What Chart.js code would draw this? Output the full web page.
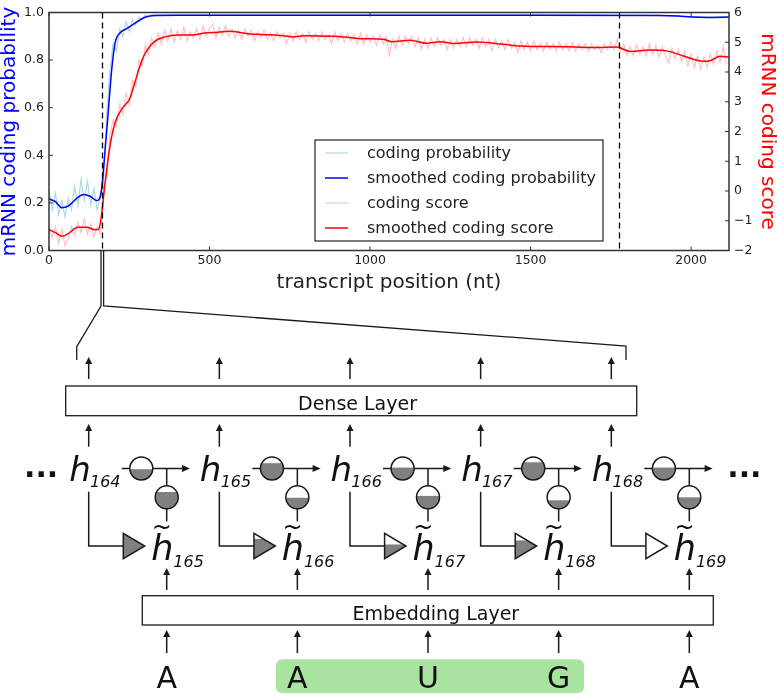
<!DOCTYPE html>
<html>
<head>
<meta charset="utf-8">
<script src="https://cdn.jsdelivr.net/npm/chart.js@4.4.0/dist/chart.umd.min.js"></script>
<style>
body { margin: 0; background: #fff; }
#wrap { position: relative; width: 777px; height: 695px; }
#chartBox { position: absolute; left: 0; top: 0; width: 777px; height: 300px; }
#diagram { position: absolute; left: 0; top: 0; pointer-events: none; }
</style>
</head>
<body>
<div id="wrap">
  <div id="chartBox"><canvas id="chart"></canvas></div>
  <svg id="diagram" width="777" height="695"></svg>
</div>
<script>
// Data
const transcriptLength = 2118;
const cdsBounds = [166, 1775];
const xTicks = [0, 500, 1000, 1500, 2000];
const probTicks = [0, 0.2, 0.4, 0.6, 0.8, 1.0];
const scoreTicks = [-2, -1, 0, 1, 2, 3, 4, 5, 6];

const rawProbX = [0, 10, 20, 30, 40, 50, 60, 70, 80, 90, 100, 110, 120, 130, 140, 150, 160, 170, 180, 190,
  200, 210, 220, 230, 240, 250, 260, 270, 280, 290, 300, 310, 320, 330, 400, 800, 1200, 1600, 1900, 2000, 2118];
const rawProb = [.26, .17, .24, .15, .21, .14, .22, .17, .27, .19, .30, .21, .29, .19, .26, .17, .22, .30, .58, .76,
  .87, .84, .93, .90, .96, .92, .97, .95, .98, .97, .99, .98, .99, .99, .99, .99, .99, .99, .988, .982, .982];

const smoothProbX = [0, 20, 40, 60, 91, 107, 128, 148, 156, 164, 174, 185, 195, 206, 221, 242, 268, 299, 320, 400,
  1000, 1500, 1900, 1960, 2000, 2050, 2118];
const smoothProb = [.217, .205, .18, .187, .224, .235, .228, .21, .215, .26, .41, .59, .756, .873, .914, .932, .955, .98, .986, .988,
  .988, .988, .987, .985, .981, .979, .981];

// coding score sampled every 10 nt
const rawScore = [
  -1.15, -1.55, -1.20, -1.75, -1.30, -1.85, -1.60, -1.20, -1.50, -1.05,
  -1.40, -0.95, -1.45, -1.10, -1.55, -1.20, -1.45, 0.10, 0.50, 1.90,
  2.40, 2.20, 2.90, 2.60, 3.30, 2.90, 3.70, 3.50, 4.40, 4.20,
  4.90, 4.60, 5.15, 4.85, 5.30, 4.95, 5.40, 5.05, 5.45, 5.00,
  5.40, 5.10, 5.50, 5.05, 5.35, 5.15, 5.45, 5.10, 5.55, 5.20,
  5.45, 5.60, 5.15, 5.50, 5.25, 5.55, 5.20, 5.45, 5.15, 5.40,
  5.10, 5.45, 5.20, 5.40, 5.05, 5.35, 5.15, 5.40, 5.10, 5.30,
  5.05, 5.35, 5.15, 5.30, 4.95, 5.30, 5.05, 5.35, 5.10, 5.30,
  5.00, 5.35, 5.10, 5.30, 5.05, 5.35, 5.10, 5.25, 4.95, 5.35,
  5.05, 5.30, 5.00, 5.30, 5.05, 5.25, 4.95, 5.30, 4.95, 5.25,
  5.00, 5.20, 4.90, 5.25, 4.95, 5.20, 4.55, 5.10, 4.80, 5.20,
  4.90, 5.20, 4.95, 5.20, 4.85, 5.15, 4.75, 5.10, 4.80, 5.15,
  4.85, 5.15, 4.90, 5.10, 4.75, 5.10, 4.80, 5.10, 4.85, 5.15,
  4.85, 5.15, 4.90, 5.10, 4.80, 5.15, 4.85, 5.10, 4.70, 5.10,
  4.80, 5.05, 4.75, 5.10, 4.80, 5.00, 4.65, 5.05, 4.75, 5.00,
  4.70, 5.05, 4.75, 4.95, 4.70, 5.00, 4.75, 4.95, 4.70, 5.00,
  4.75, 4.95, 4.70, 5.00, 4.70, 4.95, 4.75, 4.95, 4.70, 4.95,
  4.75, 4.90, 4.65, 4.95, 4.75, 5.00, 4.75, 5.10, 4.70, 4.95,
  4.55, 4.85, 4.55, 4.90, 4.60, 4.85, 4.55, 4.95, 4.60, 4.90,
  4.50, 4.85, 4.55, 4.30, 4.80, 4.45, 4.75, 4.35, 4.70, 4.20,
  4.60, 4.15, 4.55, 4.10, 4.50, 4.15, 4.60, 4.25, 4.70, 4.35,
  4.85, 4.30
];
const rawScoreX = rawScore.map((_, i) => i * 10);

const smoothScoreX = [0, 20, 40, 60, 90, 117, 143, 155, 164, 174, 190, 206, 226, 252, 268, 289, 304, 330, 361, 403,
  444, 486, 527, 560, 626, 660, 730, 761, 792, 886, 917, 979, 1041, 1067, 1124, 1176, 1218, 1259, 1332, 1415,
  1467, 1519, 1623, 1706, 1768, 1810, 1872, 1924, 1976, 2038, 2059, 2090, 2118];
const smoothScore = [-1.30, -1.40, -1.52, -1.43, -1.22, -1.22, -1.30, -1.28, -0.78, 0.21, 1.52, 2.30, 2.74, 3.12, 3.67, 4.38, 4.71, 5.04, 5.18, 5.24,
  5.24, 5.31, 5.34, 5.37, 5.28, 5.26, 5.22, 5.18, 5.22, 5.20, 5.18, 5.12, 5.10, 5.02, 5.07, 4.97, 5.02, 4.96, 5.01, 4.93,
  4.87, 4.86, 4.85, 4.82, 4.84, 4.69, 4.74, 4.71, 4.54, 4.36, 4.38, 4.53, 4.50];

const pts = (xs, ys) => xs.map((x, i) => ({ x: x, y: ys[i] }));
const FONT = 'DejaVu Sans';
const INK = '#222';

const framePlugin = {
  id: 'frameAndLegend',
  afterDatasetsDraw(chart) {
    const { ctx, chartArea: a, scales } = chart;
    ctx.save();
    // start / stop codon positions
    ctx.strokeStyle = '#000';
    ctx.lineWidth = 1.3;
    ctx.setLineDash([6, 4]);
    cdsBounds.forEach(v => {
      const px = Math.round(scales.x.getPixelForValue(v)) + 0.5;
      ctx.beginPath(); ctx.moveTo(px, a.top); ctx.lineTo(px, a.bottom); ctx.stroke();
    });
    ctx.setLineDash([]);
    // axes frame
    ctx.strokeStyle = '#333';
    ctx.lineWidth = 1.5;
    ctx.strokeRect(a.left, a.top, a.right - a.left, a.bottom - a.top);
    // inward tick marks
    ctx.lineWidth = 1;
    const tl = 4;
    xTicks.forEach(v => {
      const px = scales.x.getPixelForValue(v);
      ctx.beginPath();
      ctx.moveTo(px, a.bottom); ctx.lineTo(px, a.bottom - tl);
      ctx.moveTo(px, a.top); ctx.lineTo(px, a.top + tl);
      ctx.stroke();
    });
    probTicks.forEach(v => {
      const py = scales.y.getPixelForValue(v);
      ctx.beginPath(); ctx.moveTo(a.left, py); ctx.lineTo(a.left + tl, py); ctx.stroke();
    });
    scoreTicks.forEach(v => {
      const py = scales.y1.getPixelForValue(v);
      ctx.beginPath(); ctx.moveTo(a.right, py); ctx.lineTo(a.right - tl, py); ctx.stroke();
    });
    // legend
    const lx = a.left + 266, ly = a.top + 127.5, lw = 288, lh = 101;
    ctx.fillStyle = '#fff';
    ctx.fillRect(lx, ly, lw, lh);
    ctx.strokeStyle = INK;
    ctx.lineWidth = 1.2;
    ctx.strokeRect(lx, ly, lw, lh);
    ctx.font = '16px "' + FONT + '"';
    ctx.textBaseline = 'middle';
    ctx.fillStyle = INK;
    chart.data.datasets.forEach((ds, i) => {
      const ry = ly + 13 + i * 25;
      ctx.strokeStyle = ds.borderColor;
      ctx.lineWidth = ds.borderWidth;
      ctx.beginPath(); ctx.moveTo(lx + 10, ry); ctx.lineTo(lx + 33, ry); ctx.stroke();
      ctx.fillText(ds.label, lx + 52, ry + 1);
    });
    ctx.restore();
  }
};

const tickFont = { family: FONT, size: 12.5 };
const titleFont = { family: FONT, size: 20, lineHeight: 1 };

new Chart(document.getElementById('chart'), {
  type: 'line',
  data: {
    datasets: [
      { label: 'coding probability', data: pts(rawProbX, rawProb), yAxisID: 'y', borderColor: '#add8e6', borderWidth: 1.2, order: 4 },
      { label: 'smoothed coding probability', data: pts(smoothProbX, smoothProb), yAxisID: 'y', borderColor: '#0000ff', borderWidth: 1.5, cubicInterpolationMode: 'monotone', order: 3 },
      { label: 'coding score', data: pts(rawScoreX, rawScore), yAxisID: 'y1', borderColor: '#ffc0cb', borderWidth: 1.2, order: 2 },
      { label: 'smoothed coding score', data: pts(smoothScoreX, smoothScore), yAxisID: 'y1', borderColor: '#ff0000', borderWidth: 1.5, cubicInterpolationMode: 'monotone', order: 1 }
    ]
  },
  options: {
    responsive: true,
    maintainAspectRatio: false,
    animation: false,
    layout: { padding: { top: 7.5, left: 0, right: 0, bottom: 0 } },
    elements: { point: { radius: 0 }, line: { tension: 0 } },
    plugins: { legend: { display: false }, tooltip: { enabled: false } },
    scales: {
      x: {
        type: 'linear', min: 0, max: transcriptLength,
        afterBuildTicks: s => { s.ticks = xTicks.map(v => ({ value: v })); },
        afterFit: s => { s.height = 49.5; },
        grid: { display: false, drawTicks: false },
        border: { display: false },
        ticks: { font: tickFont, color: INK, padding: 3, maxRotation: 0, callback: v => String(v) },
        title: { display: true, text: 'transcript position (nt)', font: titleFont, color: INK, padding: { top: 0, bottom: 7.5 } }
      },
      y: {
        position: 'left', min: 0, max: 1,
        afterBuildTicks: s => { s.ticks = probTicks.map(v => ({ value: v })); },
        afterFit: s => { s.width = 49; },
        grid: { display: false, drawTicks: false },
        border: { display: false },
        ticks: { font: tickFont, color: INK, padding: 5, callback: v => v.toFixed(1) },
        title: { display: true, text: 'mRNN coding probability', font: titleFont, color: '#0000ff', padding: 0 }
      },
      y1: {
        position: 'right', min: -2, max: 6,
        afterBuildTicks: s => { s.ticks = scoreTicks.map(v => ({ value: v })); },
        afterFit: s => { s.width = 48; },
        grid: { display: false, drawTicks: false },
        border: { display: false },
        ticks: { font: tickFont, color: INK, padding: 5, callback: v => (v < 0 ? '\u2212' + Math.abs(v) : String(v)) },
        title: { display: true, text: 'mRNN coding score', font: titleFont, color: '#ff0000', padding: 0 }
      }
    }
  },
  plugins: [framePlugin]
});

// ---- network diagram below the chart ----
const hLabels = ['164', '165', '166', '167', '168'];
const bases = ['A', 'A', 'U', 'G', 'A'];
const updateGate = [0.47, 0.73, 0.54, 0.77, 0.54];
const resetGate = [0.73, 0.48, 0.56, 0.37, 0.5];
const candGate = [1.0, 0.78, 0.56, 0.72, 0.0];

const svg = document.getElementById('diagram');
const NS = 'http://www.w3.org/2000/svg';
const GRAY = '#808080';
const LINE = '#1a1a1a';
function el(tag, attrs, parent) {
  const e = document.createElementNS(NS, tag);
  for (const k in attrs) e.setAttribute(k, attrs[k]);
  (parent || svg).appendChild(e);
  return e;
}
function txt(x, y, s, attrs) {
  const t = el('text', Object.assign({ x: x, y: y, 'font-family': FONT, fill: '#111' }, attrs));
  t.textContent = s;
  return t;
}
const defs = el('defs', {});
const stroke = { stroke: LINE, 'stroke-width': 1.5, fill: 'none' };

function arrowUp(x, yFrom, yTip) {
  el('line', Object.assign({ x1: x, y1: yFrom, x2: x, y2: yTip + 5 }, stroke));
  el('polygon', { points: `${x - 3.5},${yTip + 7} ${x + 3.5},${yTip + 7} ${x},${yTip}`, fill: LINE });
}
function arrowRight(xFrom, xTip, y) {
  el('line', Object.assign({ x1: xFrom, y1: y, x2: xTip - 5, y2: y }, stroke));
  el('polygon', { points: `${xTip - 8},${y - 3.5} ${xTip - 8},${y + 3.5} ${xTip},${y}`, fill: LINE });
}
let clipId = 0;
function gauge(cx, cy, r, f) {
  const id = 'cp' + (clipId++);
  const cp = el('clipPath', { id: id }, defs);
  el('circle', { cx: cx, cy: cy, r: r }, cp);
  el('circle', { cx: cx, cy: cy, r: r, fill: '#fff' });
  el('rect', { x: cx - r, y: cy + r - 2 * r * f, width: 2 * r, height: 2 * r * f, fill: GRAY, 'clip-path': `url(#${id})` });
  el('circle', Object.assign({ cx: cx, cy: cy, r: r }, stroke));
}
function triGauge(x0, x1, yc, half, f) {
  const id = 'cp' + (clipId++);
  const p = `${x0},${yc - half} ${x0},${yc + half} ${x1},${yc}`;
  const cp = el('clipPath', { id: id }, defs);
  el('polygon', { points: p }, cp);
  el('polygon', { points: p, fill: '#fff' });
  el('rect', { x: x0, y: yc + half - 2 * half * f, width: x1 - x0, height: 2 * half * f, fill: GRAY, 'clip-path': `url(#${id})` });
  el('polygon', Object.assign({ points: p, 'stroke-linejoin': 'miter' }, stroke));
}

// zoom connector from the start codon
el('polyline', { points: '101,251 101,306 76.7,346.7 76.7,360', stroke: LINE, fill: 'none', 'stroke-width': 1.3 });
el('polyline', { points: '103.6,251 103.6,306 626,346 626,360', stroke: LINE, fill: 'none', 'stroke-width': 1.3 });

// layers
el('rect', Object.assign({ x: 65.7, y: 386, width: 571, height: 29.7 }, stroke, { fill: '#fff', 'stroke-width': 1.3 }));
txt(357.5, 410, 'Dense Layer', { 'font-size': 19, 'text-anchor': 'middle' });
el('rect', Object.assign({ x: 142.3, y: 595.7, width: 571, height: 29.3 }, stroke, { fill: '#fff', 'stroke-width': 1.3 }));
txt(435.8, 620, 'Embedding Layer', { 'font-size': 19, 'text-anchor': 'middle' });
el('rect', { x: 276, y: 659.3, width: 308, height: 33.7, rx: 6, ry: 6, fill: '#a8e4a0' });

txt(24, 476.7, '...', { 'font-size': 30, 'font-weight': 'bold' });
txt(727.3, 476.7, '...', { 'font-size': 30, 'font-weight': 'bold' });

hLabels.forEach((lab, i) => {
  const hx = 88.7 + i * 130.65;
  const gx = hx + 78;
  arrowUp(hx, 379, 357);
  arrowUp(hx, 446.7, 424);
  txt(hx - 19.5, 481, 'h', { 'font-size': 34, 'font-style': 'italic' });
  txt(hx + 1.3, 486.7, lab, { 'font-size': 16, 'font-style': 'italic' });
  // update path
  arrowRight(hx + 33, hx + 101.3, 468.5);
  el('line', Object.assign({ x1: gx, y1: 468.5, x2: gx, y2: 521.5 }, stroke));
  gauge(hx + 52.6, 468.5, 11.5, updateGate[i]);
  gauge(gx, 497.3, 11.5, resetGate[i]);
  // candidate path
  el('polyline', Object.assign({ points: `${hx},491.7 ${hx},546 ${hx + 34.6},546` }, stroke));
  triGauge(hx + 34.6, hx + 56, 546, 12.7, candGate[i]);
  txt(gx - 15.5, 560, 'h', { 'font-size': 35, 'font-style': 'italic' });
  txt(gx - 4.8, 535, '~', { 'font-size': 24, 'font-style': 'italic', 'text-anchor': 'middle' });
  txt(gx + 6.6, 566.7, String(Number(lab) + 1), { 'font-size': 16, 'font-style': 'italic' });
  arrowUp(gx, 590, 568);
  arrowUp(gx, 653, 630);
  txt(gx, 688.3, bases[i], { 'font-size': 30, 'text-anchor': 'middle' });
});
</script>
</body>
</html>
